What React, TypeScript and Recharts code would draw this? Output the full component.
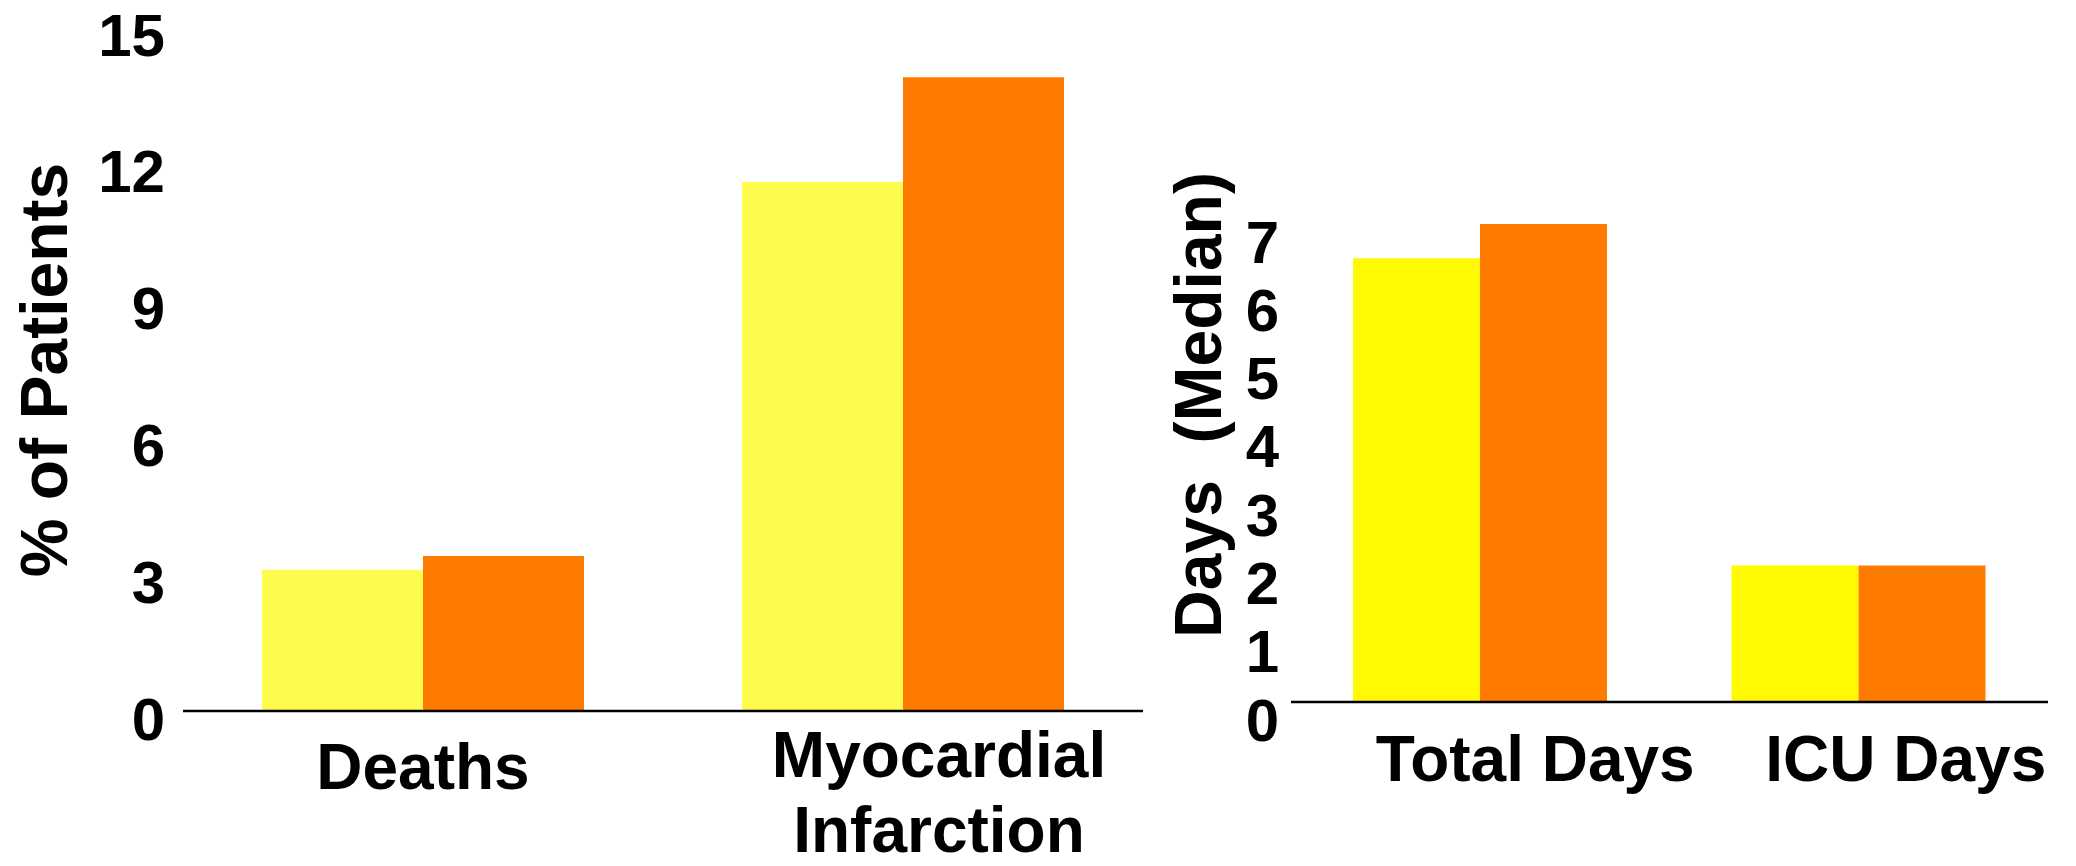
import { BarChart, Bar, XAxis, YAxis } from "recharts";

// left panel: % of patients
const outcomeCategories = ["Deaths", "Myocardial\nInfarction"];
const outcomeSeriesA = [3.1, 11.6];
const outcomeSeriesB = [3.4, 13.9];
const percentTicks = [0, 3, 6, 9, 12, 15];

// right panel: median length of stay
const stayCategories = ["Total Days", "ICU Days"];
const staySeriesA = [6.5, 2.0];
const staySeriesB = [7.0, 2.0];
const dayTicks = [0, 1, 2, 3, 4, 5, 6, 7];

const FONT = "'Liberation Sans', Arial, Helvetica, sans-serif";
const ORANGE = "#FF7B00";

const outcomeData = outcomeCategories.map((name, i) => ({
  name,
  a: outcomeSeriesA[i],
  b: outcomeSeriesB[i],
}));

const stayData = stayCategories.map((name, i) => ({
  name,
  a: staySeriesA[i],
  b: staySeriesB[i],
}));

type TickProps = {
  x?: number;
  y?: number;
  index?: number;
  payload?: { value: string | number };
};

function ValueTick({ x = 0, y = 0, payload, shift }: TickProps & { shift: number }) {
  return (
    <text
      x={x}
      y={y + shift}
      dy="0.36em"
      textAnchor="end"
      fontFamily={FONT}
      fontWeight="bold"
      fontSize={60}
      fill="#000"
    >
      {payload?.value}
    </text>
  );
}

function CategoryTick({
  x = 0,
  y = 0,
  index = 0,
  payload,
  offsetY,
  shifts,
}: TickProps & { offsetY: number; shifts: number[] }) {
  const lines = String(payload?.value ?? "").split("\n");
  const cx = x + (shifts[index] ?? 0);
  const firstY = y + offsetY - (lines.length - 1) * 12;
  return (
    <text
      x={cx}
      y={firstY}
      textAnchor="middle"
      fontFamily={FONT}
      fontWeight="bold"
      fontSize={64}
      fill="#000"
    >
      {lines.map((line, i) => (
        <tspan key={line} x={cx} dy={i === 0 ? "0.36em" : 75}>
          {line}
        </tspan>
      ))}
    </text>
  );
}

function AxisTitle({ text, x, y }: { text: string; x: number; y: number }) {
  return (
    <text
      x={x}
      y={y}
      transform={`rotate(-90 ${x} ${y})`}
      textAnchor="middle"
      fontFamily={FONT}
      fontWeight="bold"
      fontSize={66}
      fill="#000"
      style={{ whiteSpace: "pre" }}
    >
      {text}
    </text>
  );
}

export default function App() {
  return (
    <div
      style={{
        position: "absolute",
        left: 0,
        top: 0,
        width: 2076,
        height: 866,
        background: "#fff",
      }}
    >
      <div style={{ position: "absolute", left: 0, top: 0 }}>
        <BarChart
          width={1160}
          height={866}
          data={outcomeData}
          margin={{ top: 27, right: 17, left: 0, bottom: 0 }}
          barGap={0}
        >
          <XAxis
            dataKey="name"
            height={155}
            tickSize={0}
            tickMargin={0}
            axisLine={{ stroke: "#000", strokeWidth: 2.5 }}
            tickLine={false}
            interval={0}
            tick={(p: TickProps) => (
              <CategoryTick {...p} offsetY={55} shifts={[0, 36]} />
            )}
          />
          <YAxis
            width={183}
            domain={[0, 15]}
            ticks={percentTicks}
            tickSize={0}
            tickMargin={18}
            axisLine={false}
            tickLine={false}
            interval={0}
            tick={(p: TickProps) => <ValueTick {...p} shift={7} />}
            label={() => <AxisTitle text="% of Patients" x={67} y={370} />}
          />
          <Bar dataKey="a" fill="#FCFB4E" barSize={161} isAnimationActive={false} />
          <Bar dataKey="b" fill={ORANGE} barSize={161} isAnimationActive={false} />
        </BarChart>
      </div>

      <div style={{ position: "absolute", left: 1160, top: 0 }}>
        <BarChart
          width={916}
          height={866}
          data={stayData}
          margin={{ top: 224, right: 28, left: 0, bottom: 0 }}
          barGap={0}
        >
          <XAxis
            dataKey="name"
            height={164}
            tickSize={0}
            tickMargin={0}
            axisLine={{ stroke: "#000", strokeWidth: 2.5 }}
            tickLine={false}
            interval={0}
            tick={(p: TickProps) => (
              <CategoryTick {...p} offsetY={56} shifts={[55, 47]} />
            )}
          />
          <YAxis
            width={131}
            domain={[0, 7]}
            ticks={dayTicks}
            tickSize={0}
            tickMargin={12}
            axisLine={false}
            tickLine={false}
            interval={0}
            tick={(p: TickProps) => <ValueTick {...p} shift={17} />}
            label={() => <AxisTitle text="Days  (Median)" x={61} y={405} />}
          />
          <Bar dataKey="a" fill="#FFFA00" barSize={127} isAnimationActive={false} />
          <Bar dataKey="b" fill={ORANGE} barSize={127} isAnimationActive={false} />
        </BarChart>
      </div>
    </div>
  );
}
